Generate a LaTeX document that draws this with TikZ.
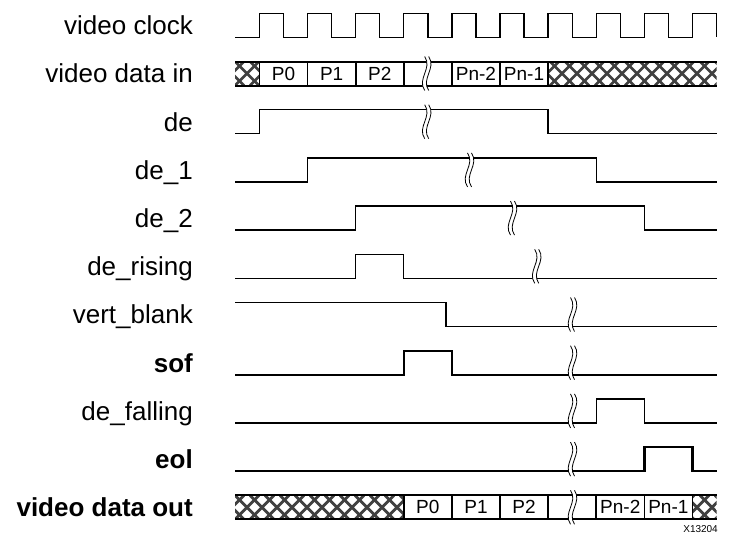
\documentclass[tikz,border=0pt]{standalone}
\usepackage{fontspec}
\setmainfont{Liberation Sans}
\begin{document}
\begin{tikzpicture}[
			x=1pt,y=-1pt,
			lbl/.style={anchor=base east,inner sep=0pt,font=\fontsize{26}{30}\selectfont},
			lblbold/.style={anchor=base east,inner sep=0pt,font=\fontsize{26}{30}\selectfont\bfseries},
			cell/.style={inner sep=0pt,font=\fontsize{19}{22}\selectfont},
			wave/.style={line width=1.3pt},
			boldwave/.style={line width=2.4pt},
			bus/.style={line width=2pt},
			sep/.style={line width=1.6pt},
			hatch/.style={line width=2.8pt,black!75},
			brk/.style={line width=0.8pt}
		]
		\useasboundingbox (0,0) rectangle (730,544);
		\node[lbl] (clk) at (193,34.6) {video clock};
		\node[lbl] (din) at (193,82.8) {video data in};
		\node[lbl] (de) at (193,131) {de};
		\node[lbl] (de1) at (193,179.2) {de\_1};
		\node[lbl] (de2) at (193,227.4) {de\_2};
		\node[lbl] (derise) at (193,275.6) {de\_rising};
		\node[lbl] (vblank) at (193,323.8) {vert\_blank};
		\node[lblbold] (sof) at (193,372) {sof};
		\node[lbl] (defall) at (193,420.2) {de\_falling};
		\node[lblbold] (eol) at (193,468.4) {eol};
		\node[lblbold] (dout) at (193,516.6) {video data out};
		\draw[wave] (235,37.3) \foreach \k in {0,...,9} {
				-- ({259.5+48.1*\k},37.3) -- ++(0,-24) -- ++(24.05,0) -- ++(0,24)
			};
		\begin{scope}
			\clip (235,61.5) rectangle (259.5,85.5) (548.1,61.5) rectangle (716.5,85.5);
			\foreach \i in {205,220,...,720}
			\draw[hatch] (\i,61.5) -- ++(24,24) (\i,85.5) -- ++(24,-24);
		\end{scope}
		\draw[bus] (235,61.5) -- (716.5,61.5) (235,85.5) -- (716.5,85.5);
		\foreach \x in {259.5,307.6,355.7,403.8,451.9,500,548.1}
		\draw[sep] (\x,61.5) -- (\x,85.5);
		\foreach \t/\x [count=\i] in {P0/283.55,P1/331.65,P2/379.75,Pn-2/475.95,Pn-1/524.05}
		\node[cell] (in\i) at (\x,73.5) {\t};
		\draw[wave] (235,133.7) -| (259.5,109.7) -| (548.1,133.7) -- (716.5,133.7);
		\draw[wave] (235,181.9) -| (307.6,157.9) -| (596.2,181.9) -- (716.5,181.9);
		\draw[wave] (235,230.1) -| (355.7,206.1) -| (644.3,230.1) -- (716.5,230.1);
		\draw[wave] (235,278.3) -| (355.7,254.3) -| (403.8,278.3) -- (716.5,278.3);
		\draw[wave] (235,302.5) -| (446,326.5) -- (716.5,326.5);
		\draw[boldwave] (235,374.7) -| (403.8,350.7) -| (451.9,374.7) -- (716.5,374.7);
		\draw[wave] (235,422.9) -| (596.2,398.9) -| (644.3,422.9) -- (716.5,422.9);
		\draw[boldwave] (235,471.1) -| (644.3,447.1) -| (692.4,471.1) -- (716.5,471.1);
		\begin{scope}
			\clip (235,495.3) rectangle (403.8,519.3) (692.4,495.3) rectangle (716.5,519.3);
			\foreach \i in {205,220,...,720}
			\draw[hatch] (\i,495.3) -- ++(24,24) (\i,519.3) -- ++(24,-24);
		\end{scope}
		\draw[bus] (235,495.3) -- (716.5,495.3) (235,519.3) -- (716.5,519.3);
		\foreach \x in {403.8,451.9,500,548.1,596.2,644.3,692.4}
		\draw[sep] (\x,495.3) -- (\x,519.3);
		\foreach \t/\x [count=\i] in {P0/427.85,P1/475.95,P2/524.05,Pn-2/620.25,Pn-1/668.35}
		\node[cell] (out\i) at (\x,507.3) {\t};
		\foreach \x/\y in {426.7/73.5,426.7/121.7,469.5/169.9,512.5/218.1,536.7/266.3,
				572.5/314.5,572.5/362.7,572.5/410.9,572.5/459.1,572.5/507.3} {
				\fill[white] (\x-2,\y-17) .. controls (\x+6,\y-5) and (\x-10,\y+5) .. (\x-2,\y+17)
				-- (\x+2,\y+17) .. controls (\x-6,\y+5) and (\x+10,\y-5) .. (\x+2,\y-17) -- cycle;
				\draw[brk] (\x-2,\y-17) .. controls (\x+6,\y-5) and (\x-10,\y+5) .. (\x-2,\y+17);
				\draw[brk] (\x+2,\y-17) .. controls (\x+10,\y-5) and (\x-6,\y+5) .. (\x+2,\y+17);
			}
		\node[anchor=east,inner sep=0pt,font=\fontsize{10}{12}\selectfont] (fig) at (718,529) {X13204};
	\end{tikzpicture}
\end{document}
